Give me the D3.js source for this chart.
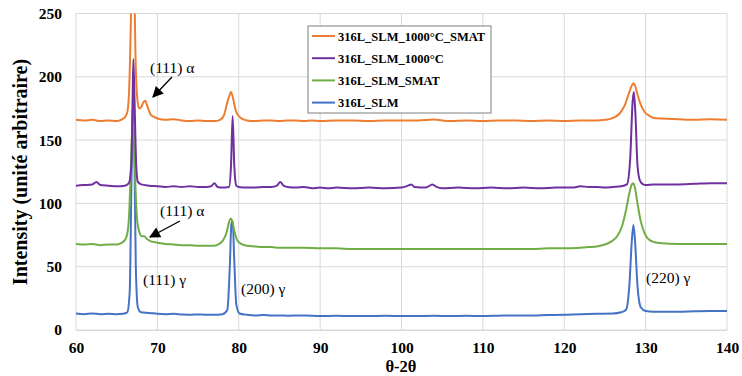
<!DOCTYPE html>
<html><head><meta charset="utf-8">
<script src="https://cdn.jsdelivr.net/npm/d3@7"></script>
<style>body{margin:0;background:#fff}svg{display:block}</style>
</head><body><svg id="c" width="742" height="376"></svg>
<script>
const seriesNames = ["316L_SLM_1000°C_SMAT","316L_SLM_1000°C","316L_SLM_SMAT","316L_SLM"];
const seriesColors = ["#ED7D31","#7030A0","#70AD47","#4472C4"];
const xTicks = [60,70,80,90,100,110,120,130,140];
const yTicks = [0,50,100,150,200,250];

const orange = [[60,166],[61,165.5],[62,166],[63,165],[64,165.5],[65,165],[65.5,166],[66,168],[66.3,172],[66.5,185],[66.7,230],[66.85,280],[67.0,300],[67.15,280],[67.3,220],[67.5,185],[67.75,175],[68.0,176],[68.3,180],[68.5,181],[68.8,176],[69.2,170],[69.7,168],[70,167],[71,166],[72,166.5],[73,165.5],[74,165],[75,165.5],[76,165],[77,165],[77.7,166],[78.2,170],[78.6,180],[78.9,186],[79.05,188],[79.3,183],[79.6,174],[80,169],[80.5,166.5],[81,165.5],[82,165],[83,165.5],[84,165.5],[85,165],[86,165.5],[87,165.5],[88,165],[89,165.5],[90,165],[92,165.5],[94,165.5],[96,165],[98,165.5],[100,165.5],[102,165.5],[104,166.2],[105,165.5],[106,165],[108,165.5],[110,165],[112,165.5],[114,165.5],[116,165],[118,165.5],[120,165],[122,165.5],[124,165.5],[125,166],[126,167.5],[126.8,171],[127.4,177],[127.9,186],[128.3,193],[128.5,195],[128.7,193],[129.0,186],[129.4,178],[129.9,172],[130.5,169],[131,167.5],[132,167],[134,166.5],[136,166],[138,166.5],[140,166]];

const purple = [[60,114],[61,114.5],[62,115],[62.5,117],[63,114.5],[64,114],[65,113.5],[66,114],[66.5,116],[66.8,130],[66.95,180],[67.05,214],[67.2,180],[67.4,130],[67.6,117],[68,115],[69,114],[70,113.5],[71,113],[72,113.5],[73,113],[74,113.5],[75,113],[76,113],[76.6,113.5],[77,116],[77.4,113],[78,112.5],[78.8,113],[79.05,130],[79.25,169],[79.45,130],[79.7,114],[80,113],[81,112.5],[82,112.5],[83,113],[84,113],[84.7,114],[85.1,117],[85.5,114],[86,113],[87,112.5],[88,113],[89,112],[90,112.5],[91,112],[92,112.5],[94,112],[96,112.5],[98,112],[100,112.5],[100.8,114],[101.2,115],[101.6,113],[103,112.5],[103.8,115],[104.3,113],[105,112],[107,112.5],[109,112],[111,112.5],[113,112],[115,112.5],[117,112],[119,112.5],[121,112.5],[122,113.5],[123,113],[124,113],[125,112.5],[126,113],[127,113.5],[127.7,115],[128.1,135],[128.4,180],[128.55,188],[128.75,170],[129.0,130],[129.3,118],[129.7,115],[130,114.5],[131,115],[132,115],[134,115],[136,115.5],[138,116],[140,116]];

const green = [[60,68],[61,67.5],[62,68],[63,67],[64,67.5],[65,67.5],[65.5,68.5],[66,71],[66.3,76],[66.5,88],[66.7,120],[66.85,150],[67.0,165],[67.15,150],[67.3,115],[67.5,88],[67.8,77],[68.1,74],[68.4,74],[68.7,72],[69.2,70],[70,69],[71,68],[72,67.5],[73,67],[74,67],[75,66.5],[76,66.5],[77,66.5],[77.6,68],[78.1,71],[78.5,77],[78.8,85],[79.0,88],[79.2,86],[79.5,77],[79.8,71],[80.3,68],[81,66.5],[82,66],[83,65.5],[84,65.5],[85,65],[86,65],[88,65],[90,64.5],[92,64.5],[94,64],[96,64],[98,64],[100,64],[102,64],[104,64],[106,64],[108,64],[110,64],[112,64],[114,64],[116,64],[118,64.5],[120,64.5],[122,65],[123,65.5],[124,66],[125,67.5],[125.8,70],[126.5,74],[127.1,82],[127.6,95],[128.0,108],[128.3,115],[128.5,116],[128.7,112],[129.0,100],[129.4,86],[129.9,76],[130.5,71],[131,69.5],[132,68.5],[134,68],[136,68],[138,68],[140,68]];

const blue = [[60,13],[61,12.5],[62,13],[63,12.5],[64,12.8],[65,12.5],[65.8,12.8],[66.3,14],[66.6,30],[66.8,110],[67.0,185],[67.15,150],[67.35,50],[67.6,18],[68,14],[69,13.5],[70,12.8],[71,12.5],[72,12.8],[73,12.3],[74,12],[75,12.3],[76,12],[77,12],[78,12.5],[78.6,16],[78.9,50],[79.1,84],[79.25,86],[79.45,55],[79.7,20],[80.1,13],[81,12],[82,11.5],[83,11.8],[84,11.5],[85,11.5],[86,11.3],[88,11.5],[90,11],[92,11.3],[94,11],[96,11],[98,11.2],[100,11],[102,11],[104,11.2],[106,11],[108,11.2],[110,11],[112,11.3],[114,11.5],[116,11.5],[118,11.8],[120,12],[122,12.5],[124,12.8],[126,13],[127,14],[127.6,16],[128.0,35],[128.3,70],[128.5,83],[128.7,70],[129.0,35],[129.4,18],[130,15],[131,14.5],[132,14.5],[134,14.5],[136,14.8],[138,15],[140,15]];

const allSeries = [orange, purple, green, blue];

const svg = d3.select("#c");
const m = {l:76, r:727, t:13.5, b:330};
const x = d3.scaleLinear().domain([60,140]).range([m.l, m.r]);
const y = d3.scaleLinear().domain([0,250]).range([m.b, m.t]);

// grid
svg.append("g").selectAll("line").data(yTicks).join("line")
  .attr("x1", m.l).attr("x2", m.r).attr("y1", d=>y(d)).attr("y2", d=>y(d))
  .attr("stroke", "#d9d9d9").attr("stroke-width", 1);
svg.append("g").selectAll("line").data(xTicks).join("line")
  .attr("x1", d=>x(d)).attr("x2", d=>x(d)).attr("y1", m.t).attr("y2", m.b)
  .attr("stroke", "#d9d9d9").attr("stroke-width", 1);

// axes labels
const xa = svg.append("g").attr("transform", `translate(0,${m.b})`)
  .call(d3.axisBottom(x).tickValues(xTicks).tickSize(0).tickPadding(0));
xa.select(".domain").attr("stroke","#d9d9d9");
xa.selectAll("text").attr("y", 23).attr("dy", null).attr("font-family","Liberation Serif").attr("font-weight","bold").attr("font-size",15.5).attr("fill","#000");
const ya = svg.append("g").attr("transform", `translate(${m.l},0)`)
  .call(d3.axisLeft(y).tickValues(yTicks).tickSize(0).tickPadding(14));
ya.select(".domain").remove();
ya.selectAll("text").attr("font-family","Liberation Serif").attr("font-weight","bold").attr("font-size",15.5).attr("fill","#000");

svg.append("defs").append("clipPath").attr("id","clip").append("rect")
  .attr("x", m.l).attr("y", m.t).attr("width", m.r-m.l).attr("height", m.b-m.t);

const line = d3.line().x(d=>x(d[0])).y(d=>y(d[1])).curve(d3.curveMonotoneX);
const g = svg.append("g").attr("clip-path","url(#clip)");
[3,2,1,0].forEach(i=>{
  g.append("path").datum(allSeries[i]).attr("d", line)
    .attr("fill","none").attr("stroke", seriesColors[i]).attr("stroke-width", 2).attr("stroke-linejoin","round");
});

// titles
svg.append("text").attr("transform","translate(27,172) rotate(-90)").attr("text-anchor","middle")
  .attr("font-family","Liberation Serif").attr("font-weight","bold").attr("font-size",20).text("Intensity (unité arbitraire)");
svg.append("text").attr("x", 401).attr("y", 371.5).attr("text-anchor","middle")
  .attr("font-family","Liberation Serif").attr("font-weight","bold").attr("font-size",16.5).text("θ-2θ");

// legend
const lg = svg.append("g");
lg.append("rect").attr("x",308).attr("y",26).attr("width",183).attr("height",87)
  .attr("fill","#fff").attr("stroke","#7f7f7f").attr("stroke-width",1);
seriesNames.forEach((n,i)=>{
  const yy = 36 + i*22.2;
  lg.append("line").attr("x1",312).attr("x2",335).attr("y1",yy).attr("y2",yy).attr("stroke",seriesColors[i]).attr("stroke-width",2);
  lg.append("text").attr("x",338).attr("y",yy+4.5).attr("font-family","Liberation Serif").attr("font-weight","bold").attr("font-size",12.5).text(n);
});

// annotations
const ann = [
  {t:"(111) α", x:150, y:73},
  {t:"(111) α", x:160, y:216},
  {t:"(111) γ", x:143, y:285},
  {t:"(200) γ", x:241, y:294},
  {t:"(220) γ", x:646, y:283}
];
svg.append("g").selectAll("text").data(ann).join("text")
  .attr("x", d=>d.x).attr("y", d=>d.y).attr("font-family","Liberation Serif").attr("font-size",15.5).text(d=>d.t);

svg.append("defs").append("marker").attr("id","ah").attr("viewBox","0 0 10 10").attr("refX",9).attr("refY",5)
  .attr("markerWidth",12).attr("markerHeight",11).attr("markerUnits","userSpaceOnUse").attr("orient","auto")
  .append("path").attr("d","M0,0 L10,5 L0,10 z").attr("fill","#000");
const arrows = [[172,77,153,97],[180,221,150,237]];
svg.append("g").selectAll("line").data(arrows).join("line")
  .attr("x1",d=>d[0]).attr("y1",d=>d[1]).attr("x2",d=>d[2]).attr("y2",d=>d[3])
  .attr("stroke","#000").attr("stroke-width",1.3).attr("marker-end","url(#ah)");
</script></body></html>
